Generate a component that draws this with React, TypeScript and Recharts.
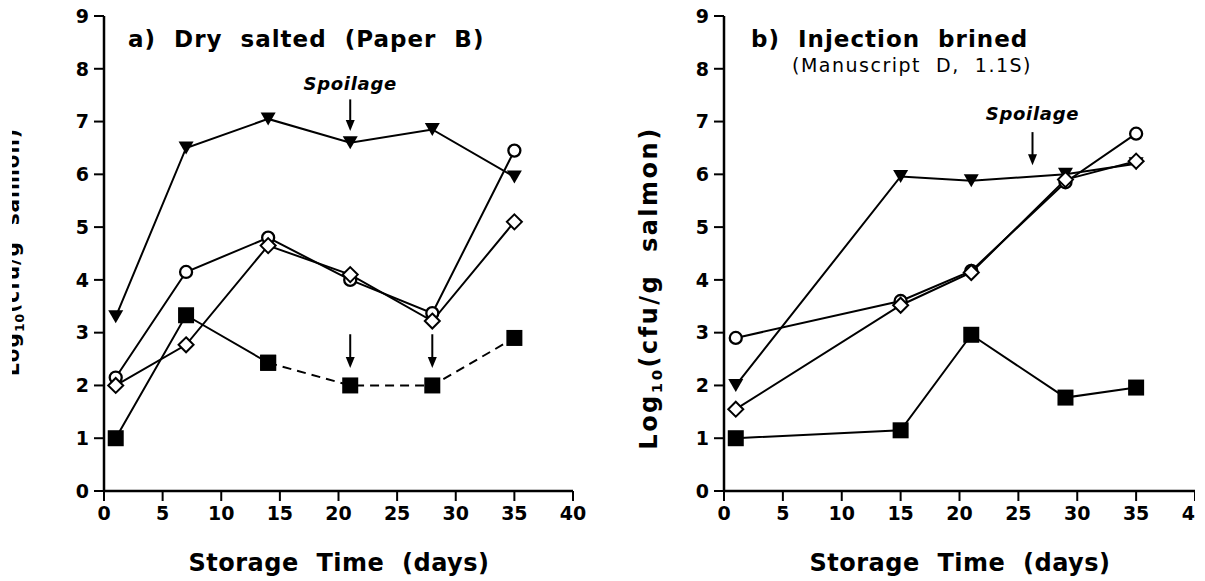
import React from 'react';
import { ComposedChart, Line, XAxis, YAxis, ReferenceLine, ReferenceDot } from 'recharts';

const FONT = '"DejaVu Sans", "Liberation Sans", sans-serif';

// a) dry salted
const daysA = [1, 7, 14, 21, 28, 35];
const triangleA = [3.3, 6.5, 7.05, 6.6, 6.85, 5.95];
const circleA = [2.15, 4.15, 4.8, 4.0, 3.37, 6.45];
const diamondA = [2.0, 2.77, 4.65, 4.1, 3.22, 5.1];
const squareA = [1.0, 3.33, 2.43, 2.0, 2.0, 2.9];

// b) injection brined
const daysB = [1, 15, 21, 29, 35];
const triangleB = [2.0, 5.96, 5.88, 6.0, 6.2];
const circleB = [2.9, 3.6, 4.17, 5.85, 6.77];
const diamondB = [1.55, 3.52, 4.14, 5.9, 6.25];
const squareB = [1.0, 1.15, 2.96, 1.77, 1.96];

const xTicks = [0, 5, 10, 15, 20, 25, 30, 35, 40];
const yTicks = [0, 1, 2, 3, 4, 5, 6, 7, 8, 9];

// arrows as [day, from, to]
const spoilageA = { day: 21, label: 7.73, from: 7.42, to: 6.82 };
const markArrowsA = [
  [21, 2.97, 2.33],
  [28, 2.97, 2.33],
];
const spoilageB = { day: 26.2, label: 7.16, from: 6.8, to: 6.17 };

const toPts = (days: number[], vals: number[]) => days.map((day, i) => ({ day, v: vals[i] }));

// markers
const Tri = (p: any) =>
  p.cx == null ? null : (
    <polygon
      key={`tri-${p.index}`}
      points={`${p.cx - 7.5},${p.cy - 6.5} ${p.cx + 7.5},${p.cy - 6.5} ${p.cx},${p.cy + 6.5}`}
      fill="#000"
    />
  );
const Circ = (p: any) =>
  p.cx == null ? null : (
    <circle key={`circ-${p.index}`} cx={p.cx} cy={p.cy} r={6} fill="#fff" stroke="#000" strokeWidth={2.3} />
  );
const Diam = (p: any) =>
  p.cx == null ? null : (
    <polygon
      key={`dia-${p.index}`}
      points={`${p.cx},${p.cy - 7.5} ${p.cx + 7.5},${p.cy} ${p.cx},${p.cy + 7.5} ${p.cx - 7.5},${p.cy}`}
      fill="#fff"
      stroke="#000"
      strokeWidth={2}
    />
  );
const Sq = (p: any) =>
  p.cx == null ? null : <rect key={`sq-${p.index}`} x={p.cx - 8} y={p.cy - 8} width={16} height={16} fill="#000" />;

const ArrowShape = (p: any) => {
  const x = p.x1;
  const top = Math.min(p.y1, p.y2);
  const tip = Math.max(p.y1, p.y2);
  return (
    <g>
      <line x1={x} y1={top} x2={x} y2={tip - 9} stroke="#000" strokeWidth={2} />
      <polygon points={`${x - 4.5},${tip - 11} ${x + 4.5},${tip - 11} ${x},${tip}`} fill="#000" />
    </g>
  );
};

const SpoilageText = (p: any) => (
  <text
    x={p.cx}
    y={p.cy}
    textAnchor="middle"
    dominantBaseline="central"
    fontFamily={FONT}
    fontWeight="bold"
    fontStyle="italic"
    fontSize={18}
    letterSpacing={0.7}
    fill="#000"
  >
    Spoilage
  </text>
);

const axisProps = {
  axisLine: { stroke: '#000', strokeWidth: 2.5 },
  tickLine: { stroke: '#000', strokeWidth: 2 },
  tickSize: 10,
  tick: { fill: '#000', fontSize: 19, fontWeight: 'bold', fontFamily: FONT },
  interval: 0 as const,
};

const lineProps = {
  dataKey: 'v',
  type: 'linear' as const,
  stroke: '#000',
  strokeWidth: 2,
  activeDot: false,
  isAnimationActive: false,
  legendType: 'none' as const,
};

const PanelA = () => (
  <ComposedChart width={600} height={581} margin={{ top: 16, right: 27, bottom: 60, left: 44 }}>
    <XAxis type="number" dataKey="day" domain={[0, 40]} ticks={xTicks} height={30} tickMargin={6} {...axisProps} />
    <YAxis type="number" domain={[0, 9]} ticks={yTicks} width={60} tickMargin={5} {...axisProps} />
    <Line {...lineProps} data={toPts(daysA, triangleA)} dot={Tri} />
    <Line {...lineProps} data={toPts(daysA, circleA)} dot={Circ} />
    <Line {...lineProps} data={toPts(daysA, diamondA)} dot={Diam} />
    <Line {...lineProps} data={toPts(daysA.slice(0, 3), squareA.slice(0, 3))} dot={Sq} />
    <Line {...lineProps} data={toPts(daysA.slice(2), squareA.slice(2))} strokeDasharray="9 6" dot={Sq} />
    <ReferenceDot x={spoilageA.day} y={spoilageA.label} r={0} shape={SpoilageText} />
    <ReferenceLine
      segment={[
        { x: spoilageA.day, y: spoilageA.from },
        { x: spoilageA.day, y: spoilageA.to },
      ]}
      shape={ArrowShape}
    />
    {markArrowsA.map(([d, from, to]) => (
      <ReferenceLine
        key={`arr-${d}`}
        segment={[
          { x: d, y: from },
          { x: d, y: to },
        ]}
        shape={ArrowShape}
      />
    ))}
  </ComposedChart>
);

const PanelB = () => (
  <ComposedChart width={605} height={581} margin={{ top: 16, right: 10, bottom: 60, left: 64 }}>
    <XAxis type="number" dataKey="day" domain={[0, 40]} ticks={xTicks} height={30} tickMargin={6} {...axisProps} />
    <YAxis type="number" domain={[0, 9]} ticks={yTicks} width={60} tickMargin={5} {...axisProps} />
    <Line {...lineProps} data={toPts(daysB, triangleB)} dot={Tri} />
    <Line {...lineProps} data={toPts(daysB, circleB)} dot={Circ} />
    <Line {...lineProps} data={toPts(daysB, diamondB)} dot={Diam} />
    <Line {...lineProps} data={toPts(daysB, squareB)} dot={Sq} />
    <ReferenceDot x={spoilageB.day} y={spoilageB.label} r={0} shape={SpoilageText} />
    <ReferenceLine
      segment={[
        { x: spoilageB.day, y: spoilageB.from },
        { x: spoilageB.day, y: spoilageB.to },
      ]}
      shape={ArrowShape}
    />
  </ComposedChart>
);

const YLabel = ({ x, y, size, spacing }: { x: number; y: number; size: number; spacing: number }) => (
  <text
    x={x}
    y={y}
    transform={`rotate(-90, ${x}, ${y})`}
    textAnchor="middle"
    fontFamily={FONT}
    fontWeight="bold"
    fontSize={size}
    letterSpacing={spacing}
    fill="#000"
    style={{ whiteSpace: 'pre' }}
  >
    Log
    <tspan fontSize={size * 0.62} dy={5}>
      10
    </tspan>
    <tspan dy={-5}>(cfu/g  salmon)</tspan>
  </text>
);

export default function App() {
  const bold = { fontFamily: FONT, fontWeight: 'bold' as const, fill: '#000' };
  return (
    <div
      style={{
        position: 'absolute',
        left: 0,
        top: 0,
        width: 1205,
        height: 581,
        overflow: 'hidden',
        background: '#fff',
      }}
    >
      <div style={{ position: 'absolute', left: 0, top: 0 }}>
        <PanelA />
      </div>
      {/* right panel runs off the page edge, so its last tick label is cut */}
      <div style={{ position: 'absolute', left: 600, top: 0, width: 595, height: 581, overflow: 'hidden' }}>
        <PanelB />
      </div>
      <svg
        width={1205}
        height={581}
        style={{ position: 'absolute', left: 0, top: 0, pointerEvents: 'none' }}
      >
        <defs>
          <clipPath id="leftEdge">
            <rect x={12} y={0} width={200} height={581} />
          </clipPath>
        </defs>
        <text x={128} y={46.5} fontSize={23} letterSpacing={1} style={{ whiteSpace: 'pre' }} {...bold}>
          a)  Dry  salted  (Paper  B)
        </text>
        <text x={751} y={46.5} fontSize={23} letterSpacing={1} style={{ whiteSpace: 'pre' }} {...bold}>
          b)  Injection  brined
        </text>
        <text x={792} y={72} fontSize={19} letterSpacing={1.5} fontFamily={FONT} fill="#000" style={{ whiteSpace: 'pre' }}>
          (Manuscript  D,  1.1S)
        </text>
        <text x={339} y={571} fontSize={24} letterSpacing={0.5} textAnchor="middle" style={{ whiteSpace: 'pre' }} {...bold}>
          Storage  Time  (days)
        </text>
        <text x={960} y={571} fontSize={24} letterSpacing={0.5} textAnchor="middle" style={{ whiteSpace: 'pre' }} {...bold}>
          Storage  Time  (days)
        </text>
        <g clipPath="url(#leftEdge)">
          <YLabel x={19} y={252} size={20} spacing={1} />
        </g>
        <YLabel x={657} y={288} size={24} spacing={2.5} />
      </svg>
    </div>
  );
}
